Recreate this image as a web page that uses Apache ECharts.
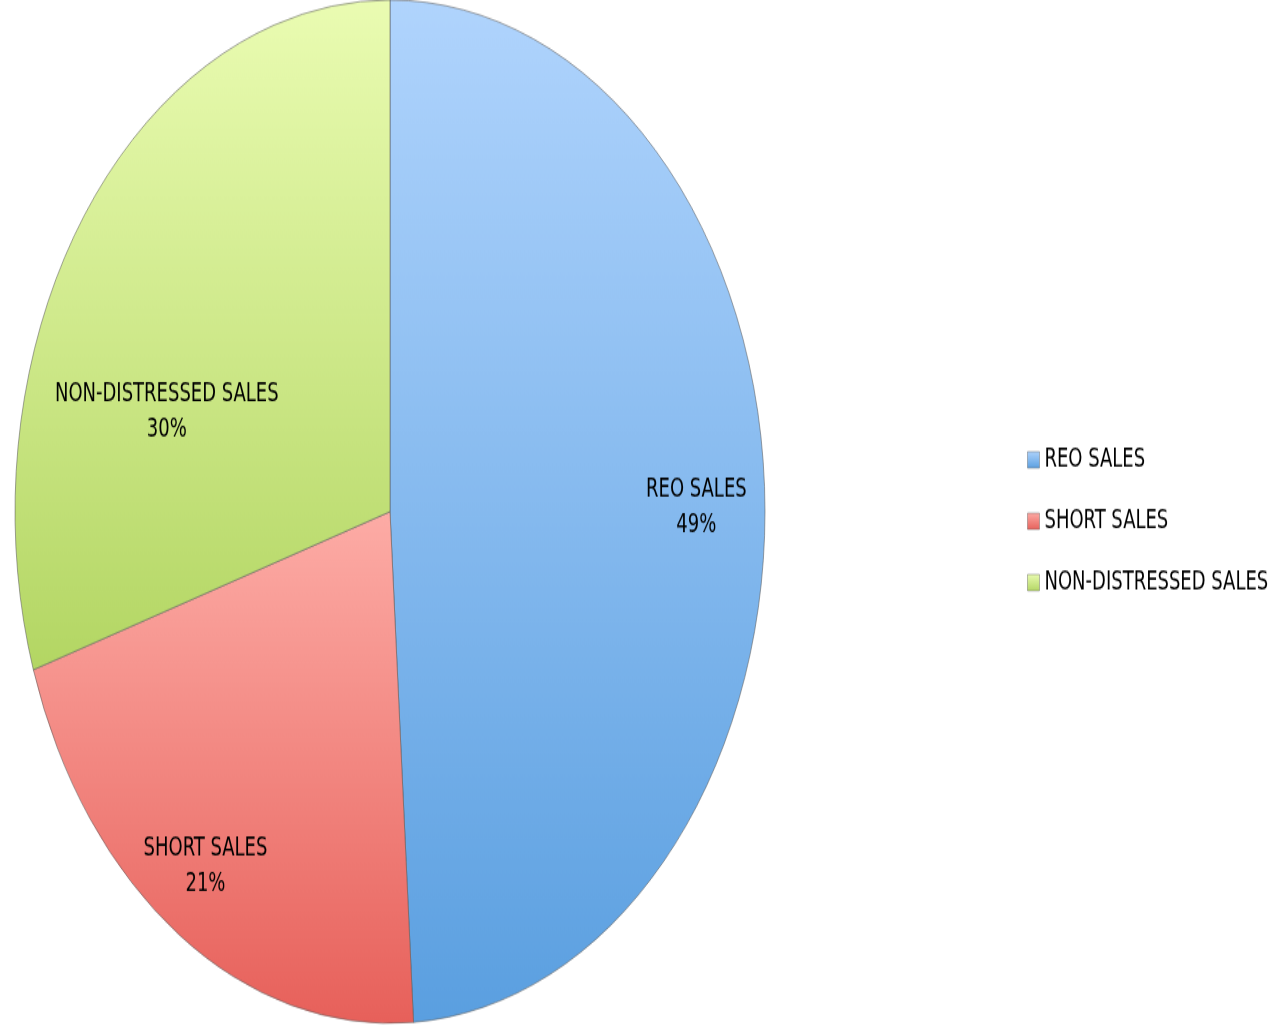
<!DOCTYPE html>
<html>
<head>
<meta charset="utf-8">
<script src="https://cdn.jsdelivr.net/npm/echarts@6/dist/echarts.min.js"></script>
<style>
	html, body { margin: 0; padding: 0; background: #fff; height: 1026px; }
	/* the original picture is a round pie stretched tall, text included */
	#main { width: 1275px; height: 752px; transform: scaleY(1.3644); transform-origin: 0 0; }
</style>
</head>
<body>
<div id="main"></div>
<script>
var categories = ['REO SALES', 'SHORT SALES', 'NON-DISTRESSED SALES'];
var shares = [49, 21, 30];
var topColors = ['#b0d4fd', '#fdaca6', '#eafcb2'];
var bottomColors = ['#5a9fe0', '#e7605a', '#b3d663'];

var font = "'Liberation Sans Narrow', 'DejaVu Sans Condensed', sans-serif";

var myChart = echarts.init(document.getElementById('main'));

function grad(i){
	return new echarts.graphic.LinearGradient(0, 0, 0, 1, [
		{offset: 0, color: topColors[i]},
		{offset: 1, color: bottomColors[i]}
	]);
}

var pieData = categories.map(function(name, i){
	return {value: shares[i], name: name, itemStyle: {color: grad(i)}};
});
var labelData = categories.map(function(name, i){
	return {value: shares[i], name: name, itemStyle: {color: 'rgba(0,0,0,0)'}};
});

var option = {
	animation: false,
	color: bottomColors,
	legend: {
		orient: 'vertical',
		left: 1022,
		top: 322,
		itemWidth: 12,
		itemHeight: 12,
		itemGap: 25,
		icon: 'rect',
		data: categories.map(function(name, i){
			return {name: name, itemStyle: {color: grad(i), borderColor: 'rgba(90,90,90,0.4)', borderWidth: 1}};
		}),
		textStyle: {fontFamily: font, fontSize: 20, color: '#000', lineHeight: 20}
	},
	series: [
		{
			name: 'sales',
			type: 'pie',
			center: [390, 375],
			radius: 375,
			startAngle: 90,
			clockwise: true,
			silent: true,
			label: {show: false},
			labelLine: {show: false},
			itemStyle: {borderColor: 'rgba(90,90,90,0.55)', borderWidth: 1},
			data: pieData
		},
		{
			name: 'labels',
			type: 'pie',
			center: [390, 375],
			radius: [240, 375],
			startAngle: 90,
			clockwise: true,
			silent: true,
			legendHoverLink: false,
			label: {
				show: true,
				position: 'inside',
				formatter: '{b}\n{d}%',
				fontFamily: font,
				fontSize: 20,
				lineHeight: 26,
				color: '#000'
			},
			labelLine: {show: false},
			labelLayout: function(params){
				if (params.dataIndex === 2) {
					return {dx: 28, dy: 109};
				}
				if (params.dataIndex === 1) {
					return {dx: -10, dy: 3};
				}
				return {dx: -4, dy: 7};
			},
			data: labelData
		}
	]
};
myChart.setOption(option);
</script>
</body>
</html>
